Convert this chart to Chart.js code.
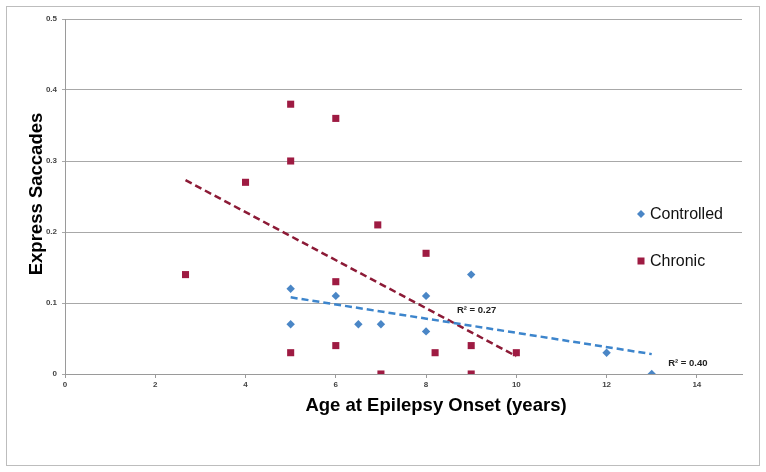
<!DOCTYPE html>
<html>
<head>
<meta charset="utf-8">
<script src="https://cdn.jsdelivr.net/npm/chart.js@4"></script>
<style>
  html, body { margin: 0; padding: 0; background: #fff; }
  #wrap { width: 766px; height: 472px; position: relative; }
</style>
</head>
<body>
<div id="wrap"><canvas id="myChart" width="766" height="472"></canvas></div>
<script>
'use strict'

// values
let controlledX = [5, 6, 5, 6.5, 7, 8, 8, 9, 12, 13];
let controlledY = [0.12, 0.11, 0.07, 0.07, 0.07, 0.11, 0.06, 0.14, 0.03, 0];

let chronicX = [5, 6, 5, 4, 6.93, 8, 2.67, 6, 5, 6, 8.2, 7, 9, 9, 10];
let chronicY = [0.38, 0.36, 0.30, 0.27, 0.21, 0.17, 0.14, 0.13, 0.03, 0.04, 0.03, 0, 0.04, 0, 0.03];

// trend line end points (as drawn)
let controlledTrendX = [5, 13];
let controlledTrendY = [0.108, 0.028];
let chronicTrendX = [2.67, 10];
let chronicTrendY = [0.273, 0.025];

let xTicks = [0, 2, 4, 6, 8, 10, 12, 14];
let yTicks = [0, 0.1, 0.2, 0.3, 0.4, 0.5];

let seriesNames = ['Controlled', 'Chronic'];
let r2Labels = ['R² = 0.27', 'R² = 0.40'];
let r2LabelX = [9.12, 13.8];
let r2LabelY = [0.089, 0.0155];

let blue = '#4a86c6';
let blueLine = '#3d85cc';
let red = '#9e1b42';
let redLine = '#8c1a36';

function toPoints(xs, ys) {
    let pts = [];
    for (let i = 0; i < xs.length; i++) {
        pts.push({x: xs[i], y: ys[i]});
    }
    return pts;
}

let extras = {
    id: 'extras',
    beforeDraw(chart) {
        let ctx = chart.ctx;
        ctx.save();
        ctx.fillStyle = '#fff';
        ctx.fillRect(0, 0, chart.width, chart.height);
        ctx.strokeStyle = '#bdbdbd';
        ctx.lineWidth = 1;
        ctx.strokeRect(6.5, 6.5, 753, 459);
        ctx.restore();
    },
    afterDraw(chart) {
        let ctx = chart.ctx;
        let xs = chart.scales.x;
        let ys = chart.scales.y;
        ctx.save();
        ctx.fillStyle = '#000';
        // axis titles
        ctx.font = 'bold 18.5px "Liberation Sans", Arial, sans-serif';
        ctx.textAlign = 'center';
        ctx.textBaseline = 'alphabetic';
        ctx.fillText('Age at Epilepsy Onset (years)', 436, 411);
        ctx.save();
        ctx.translate(41.5, 194);
        ctx.rotate(-Math.PI / 2);
        ctx.fillText('Express Saccades', 0, 0);
        ctx.restore();

        // R² labels
        ctx.font = 'bold 9.5px "Liberation Sans", Arial, sans-serif';
        ctx.fillStyle = '#222';
        ctx.textBaseline = 'middle';
        for (let i = 0; i < r2Labels.length; i++) {
            ctx.fillText(r2Labels[i], xs.getPixelForValue(r2LabelX[i]), ys.getPixelForValue(r2LabelY[i]));
        }

        // legend
        let legendY = [214, 261];
        ctx.font = '16px "Liberation Sans", Arial, sans-serif';
        ctx.textAlign = 'left';
        ctx.fillStyle = '#111';
        for (let i = 0; i < seriesNames.length; i++) {
            let ds = chart.data.datasets[i];
            ctx.save();
            ctx.fillStyle = ds.backgroundColor;
            if (i === 0) {
                ctx.beginPath();
                ctx.moveTo(641, legendY[i] - 4);
                ctx.lineTo(645, legendY[i]);
                ctx.lineTo(641, legendY[i] + 4);
                ctx.lineTo(637, legendY[i]);
                ctx.closePath();
                ctx.fill();
            } else {
                ctx.fillRect(637.5, legendY[i] - 3.5, 7, 7);
            }
            ctx.restore();
            ctx.fillText(seriesNames[i], 650, legendY[i] + 1);
        }
        ctx.restore();
    }
};

let tickFont = {family: '"Liberation Sans", Arial, sans-serif', size: 8, weight: 'bold'};

new Chart(document.getElementById('myChart').getContext('2d'), {
    type: 'scatter',
    data: {
        datasets: [{
            label: seriesNames[0],
            data: toPoints(controlledX, controlledY),
            pointStyle: 'rectRot',
            pointRadius: 4.2,
            backgroundColor: blue,
            borderColor: blue,
            borderWidth: 0,
            order: 1
        }, {
            label: seriesNames[1],
            data: toPoints(chronicX, chronicY),
            pointStyle: 'rect',
            pointRadius: 5,
            backgroundColor: red,
            borderColor: red,
            borderWidth: 0,
            order: 1
        }, {
            label: 'Controlled trend',
            data: toPoints(controlledTrendX, controlledTrendY),
            showLine: true,
            pointRadius: 0,
            borderColor: blueLine,
            borderWidth: 2.5,
            borderDash: [7, 4],
            order: 2
        }, {
            label: 'Chronic trend',
            data: toPoints(chronicTrendX, chronicTrendY),
            showLine: true,
            pointRadius: 0,
            borderColor: redLine,
            borderWidth: 2.5,
            borderDash: [7, 4],
            order: 2
        }]
    },
    options: {
        responsive: false,
        animation: false,
        layout: {padding: {top: 19, right: 24, left: 0, bottom: 0}},
        plugins: {legend: {display: false}, tooltip: {enabled: false}},
        scales: {
            x: {
                type: 'linear',
                min: 0,
                max: 15,
                afterBuildTicks(scale) {
                    scale.ticks = xTicks.map(v => ({value: v}));
                },
                afterFit(scale) { scale.height = 98; },
                grid: {drawOnChartArea: false, drawTicks: true, tickLength: 4, color: '#9a9a9a'},
                border: {color: '#9a9a9a', width: 1},
                ticks: {font: tickFont, color: '#444', padding: 2, maxRotation: 0}
            },
            y: {
                min: 0,
                max: 0.5,
                afterBuildTicks(scale) {
                    scale.ticks = yTicks.map(v => ({value: v}));
                },
                afterFit(scale) { scale.width = 65; },
                grid: {color: '#a8a8a8', tickLength: 3, lineWidth: 1},
                border: {color: '#9a9a9a', width: 1},
                ticks: {font: tickFont, color: '#444', padding: 5}
            }
        }
    },
    plugins: [extras]
});
</script>
</body>
</html>
